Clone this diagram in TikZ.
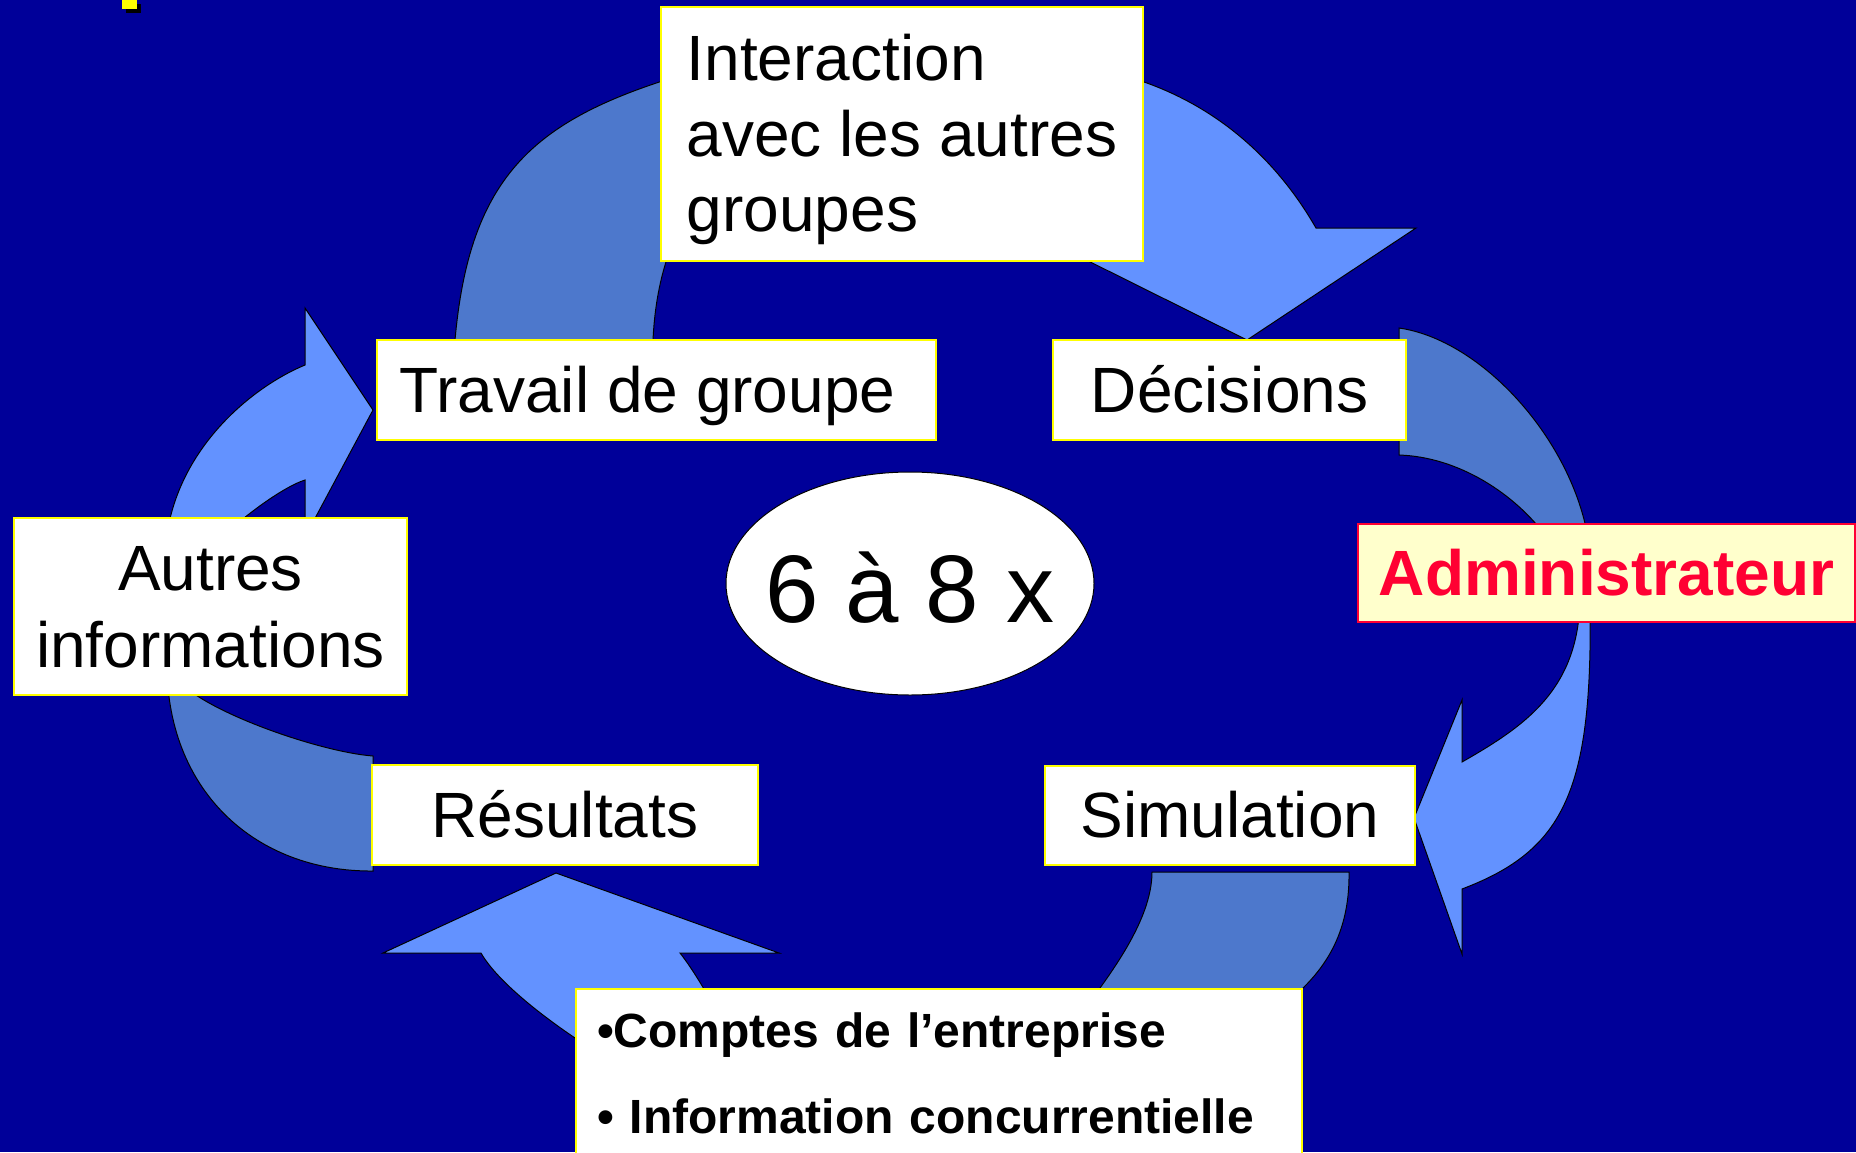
\documentclass[tikz,border=0pt]{standalone}
\usepackage{fontspec}
\setmainfont{Liberation Sans}
\usetikzlibrary{shapes.geometric}
\definecolor{bg}{HTML}{000099}
\definecolor{arrlight}{HTML}{6392FF}
\definecolor{arrdark}{HTML}{4D78CC}
\definecolor{boxyellow}{HTML}{FFFF00}
\definecolor{adminfill}{HTML}{FFFFCC}
\definecolor{adminred}{HTML}{FF0033}
\newcommand\lnstrut{\rule[-0.212em]{0pt}{1.117em}}
\begin{document}
\begin{tikzpicture}[x=1pt,y=-1pt,
  box/.style={rectangle, draw=boxyellow, fill=white, line width=2.5pt, inner sep=0pt, text=black},
  big/.style={font=\fontsize{64pt}{76pt}\selectfont},
  arrowline/.style={draw=black, line width=1pt, line join=miter},
  ]
\clip (0,0) rectangle (1856,1152);
\fill[bg] (0,0) rectangle (1856,1152);
% yellow mark top-left
\fill[black] (126,4) rectangle (141,13);
\fill[boxyellow] (122,-2) rectangle (137,9);

% ---- top arrow (Travail -> Decisions)
\filldraw[arrowline, fill=arrdark] (455,340) .. controls (471,161) and (546,111) .. (720,64) -- (720,230) -- (680,225) .. controls (662,265) and (655,300) .. (653,340) -- cycle;
\filldraw[arrowline, fill=arrlight] (1090,150) -- (1090,68) .. controls (1188,85) and (1266,141) .. (1316,228) -- (1416,228) -- (1247,340) -- (1022,228) -- cycle;

% ---- right arrow (Decisions -> Simulation)
\filldraw[arrowline, fill=arrdark] (1399,328) .. controls (1490,341) and (1590,460) .. (1591,570) -- (1545,570) -- (1545,535) .. controls (1515,495) and (1460,457) .. (1399,455) -- cycle;
\filldraw[arrowline, fill=arrlight] (1575,600) -- (1590,600) .. controls (1593,790) and (1565,850) .. (1462,889) -- (1462,954) -- (1414,818) -- (1462,700) -- (1462,762) .. controls (1525,726) and (1578,690) .. (1580,600) -- cycle;

% ---- bottom arrow (Simulation -> Resultats)
\filldraw[arrowline, fill=arrdark] (1152,872) -- (1349,872) .. controls (1350,940) and (1320,980) .. (1270,1015) -- (1080,1015) .. controls (1110,975) and (1152,920) .. (1152,872) -- cycle;
\filldraw[arrowline, fill=arrlight] (610,1060) .. controls (567,1035) and (501,988) .. (481,953) -- (383,953) -- (556,873) -- (779,953) -- (680,953) .. controls (692,968) and (712,1000) .. (725,1030) -- cycle;

% ---- left arrow (Resultats -> Travail)
\filldraw[arrowline, fill=arrdark] (373,871) .. controls (255,872) and (165,790) .. (167,660) -- (178,680) .. controls (205,712) and (320,752) .. (373,756) -- cycle;
\filldraw[arrowline, fill=arrlight] (200,560) -- (165,560) .. controls (166,460) and (245,390) .. (305,365) -- (305,308) -- (373,410) -- (305,537) -- (305,480) .. controls (280,488) and (232,525) .. (215,545) -- cycle;

% ---- boxes
\node[box, font=\fontsize{64pt}{75.5pt}\selectfont, align=left, minimum width=482pt, minimum height=254pt] (inter) at (902,134) {\lnstrut Interaction\\ \lnstrut avec les autres\\ \lnstrut groupes};
\node[box, big, minimum width=559pt, minimum height=100pt] (travail) at (656.5,390) {\lnstrut Travail de groupe\kern.278em};
\node[box, big, minimum width=353pt, minimum height=100pt] (decis) at (1229.5,390) {\lnstrut Décisions};
\node[rectangle, draw=adminred, fill=adminfill, line width=2.5pt, inner sep=0pt, text=adminred, font=\bfseries\fontsize{64pt}{76pt}\selectfont, minimum width=497pt, minimum height=98pt] (admin) at (1606.5,573) {\lnstrut Administrateur};
\node[box, font=\fontsize{64pt}{77pt}\selectfont, align=center, minimum width=393pt, minimum height=177pt] (autres) at (210.5,606.5) {\lnstrut Autres\\ \lnstrut informations};
\node[box, big, minimum width=386pt, minimum height=100pt] (result) at (565,815) {\lnstrut Résultats};
\node[box, big, minimum width=370pt, minimum height=99pt] (simul) at (1230,815.5) {\lnstrut Simulation};
\node[box, font=\bfseries\fontsize{48pt}{86pt}\selectfont, align=left, text width=684pt, minimum width=726pt, minimum height=169pt] (comptes) at (939,1073.5) {\lnstrut •Comptes de l’entreprise\\ \lnstrut • Information concurrentielle};

% ---- centre ellipse
\node[ellipse, draw=black, line width=1pt, fill=white, inner sep=0pt, minimum width=368pt, minimum height=223pt, font=\fontsize{96pt}{110pt}\selectfont, text height=86.9pt, text depth=9.6pt] (times) at (910,583.5) {\makebox[0pt][c]{6 à 8 x}};
\end{tikzpicture}
\end{document}
